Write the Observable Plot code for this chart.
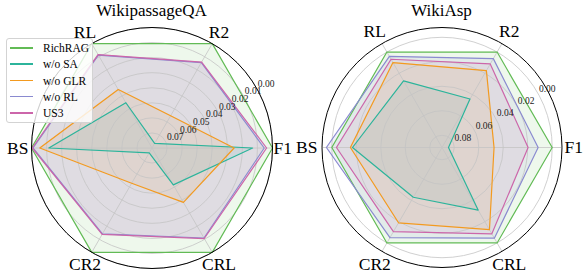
<!DOCTYPE html>
<html><head><meta charset="utf-8">
<script src="https://cdn.jsdelivr.net/npm/d3@7"></script>
<script src="https://cdn.jsdelivr.net/npm/@observablehq/plot@0.6"></script>
<style>
body{margin:0;background:#fff;}
#wrap{position:relative;width:584px;height:275px;font-family:"Liberation Serif","Times New Roman",serif;overflow:hidden;}
.chart{position:absolute;top:0;overflow:visible;}
.title{position:absolute;top:1px;width:200px;font-size:17px;line-height:20px;text-align:center;color:#000;}
.legend{position:absolute;left:6px;top:38px;width:87px;height:85px;border:1px solid #d3d3d3;border-radius:3px;background:rgba(255,255,255,0.8);box-sizing:border-box;}
.legend .row{position:absolute;left:0;height:16px;line-height:16px;font-size:11.5px;white-space:nowrap;}
.legend .sw{position:absolute;left:3px;top:7px;width:23px;height:1.5px;}
.legend .lb{position:absolute;left:36px;top:0;color:#000;}
</style></head><body><div id="wrap"></div>
<script>
// ---- data ----
const metrics = ["F1", "R2", "RL", "BS", "CR2", "CRL"];
const methods = ["RichRAG", "w/o SA", "w/o GLR", "w/o RL", "US3"];
const colors = ["#62bb55", "#2cb49b", "#f39a1f", "#8a8ad0", "#cc66aa"];

// WikipassageQA (rows = methods, cols = metrics)
const wpqaValues = [
  [0.0000, 0.0000, 0.0000, 0.0000, 0.0000, 0.0000],
  [0.0132, 0.0765, 0.0453, 0.0115, 0.0763, 0.0517],
  [0.0255, 0.0553, 0.0352, 0.0055, 0.0530, 0.0383],
  [0.0055, 0.0145, 0.0088, 0.0010, 0.0142, 0.0110],
  [0.0039, 0.0141, 0.0084, 0.0005, 0.0138, 0.0106]
];
const wpqaTicks = [0.00, 0.01, 0.02, 0.03, 0.04, 0.05, 0.06, 0.07];

// WikiAsp
const waspValues = [
  [0.0000, 0.0000, 0.0000, 0.0000, 0.0000, 0.0000],
  [0.0847, 0.0443, 0.0272, 0.0169, 0.0431, 0.0310],
  [0.0475, 0.0175, 0.0099, 0.0152, 0.0190, 0.0125],
  [0.0115, 0.0062, 0.0041, -0.0044, 0.0050, 0.0045],
  [0.0197, 0.0112, 0.0068, 0.0038, 0.0106, 0.0086]
];
const waspTicks = [0.00, 0.02, 0.04, 0.06, 0.08];

// ---- drawing ----
const rad = deg => deg * Math.PI / 180;

function radar(values, ticks, vCenter, vOuter, spinePx, labelPx, sidePx, margins) {
  const rho = v => (vCenter - v) / (vCenter - vOuter);   // 1 = outer spine
  const ang = i => rad(i * 60);                          // metric i angle, ccw from east
  const rows = [];
  methods.forEach((m, j) => metrics.forEach((k, i) => rows.push({method: m, metric: k, i, value: values[j][i]})));
  const px = d => rho(d.value) * Math.cos(ang(d.i));
  const py = d => rho(d.value) * Math.sin(ang(d.i));
  const labR = i => (i % 3 === 0 ? sidePx[i / 3] : labelPx) / spinePx;
  const anchor = i => i === 0 ? "start" : i === 3 ? "end" : "middle";
  const tickAng = rad(30.5);
  return Plot.plot({
    width: 292, height: 275, ...margins,
    x: {domain: [-1, 1], axis: null},
    y: {domain: [-1, 1], axis: null},
    r: {type: "linear", domain: [0, 1], range: [0, spinePx]},
    color: {domain: methods, range: colors},
    style: {fontFamily: "Liberation Serif, Times New Roman, serif", background: "transparent", overflow: "visible"},
    marks: [
      Plot.area(rows, {x1: px, y1: py, x2: 0, y2: 0, z: "method", fill: "method", fillOpacity: 0.11, curve: "linear-closed"}),
      Plot.dot(ticks, {x: 0, y: 0, r: t => rho(t), stroke: "#c4c4c4", strokeWidth: 0.8, fill: "none"}),
      Plot.link(metrics, {x1: 0, y1: 0, x2: (d, i) => Math.cos(ang(i)), y2: (d, i) => Math.sin(ang(i)), stroke: "#c4c4c4", strokeWidth: 0.8}),
      Plot.line(rows, {x: px, y: py, z: "method", stroke: "method", strokeWidth: 1.2, curve: "linear-closed"}),
      Plot.dot([vOuter], {x: 0, y: 0, r: t => rho(t), stroke: "#000", strokeWidth: 1, fill: "none"}),
      Plot.text(ticks, {x: t => rho(t) * Math.cos(tickAng), y: t => rho(t) * Math.sin(tickAng), text: d3.format(".2f"), textAnchor: "start", lineAnchor: "bottom", dx: 2, fontSize: 9.5, fill: "#222"}),
      ...metrics.map((m, i) => Plot.text([m], {x: labR(i) * Math.cos(ang(i)), y: labR(i) * Math.sin(ang(i)), text: d => d, fontSize: 17.5, textAnchor: anchor(i), lineAnchor: "middle", fill: "#000"}))
    ]
  });
}

const wrap = document.getElementById("wrap");

const left = radar(wpqaValues, wpqaTicks, 0.08, 0.00, 120.5, 134, [121.5, 123.5],
  {marginLeft: 31, marginRight: 20, marginTop: 27, marginBottom: 7});
left.classList.add("chart"); left.style.left = "0px";
wrap.appendChild(left);

const right = radar(waspValues, waspTicks, 0.09, -0.008, 120, 134.5, [122.5, 124.5],
  {marginLeft: 29.5, marginRight: 22.5, marginTop: 27, marginBottom: 8});
right.classList.add("chart"); right.style.left = "292px";
wrap.appendChild(right);

const t1 = document.createElement("div"); t1.className = "title"; t1.style.left = (151.5 - 100) + "px"; t1.textContent = "WikipassageQA"; wrap.appendChild(t1);
const t2 = document.createElement("div"); t2.className = "title"; t2.style.left = (441.5 - 100) + "px"; t2.textContent = "WikiAsp"; wrap.appendChild(t2);

const lg = document.createElement("div"); lg.className = "legend";
methods.forEach((m, i) => {
  const row = document.createElement("div"); row.className = "row";
  row.style.top = (1 + i * 16.3) + "px"; row.style.width = "84px";
  const sw = document.createElement("div"); sw.className = "sw"; sw.style.background = colors[i];
  const lb = document.createElement("div"); lb.className = "lb"; lb.textContent = m;
  row.appendChild(sw); row.appendChild(lb); lg.appendChild(row);
});
wrap.appendChild(lg);
</script>
</body></html>
